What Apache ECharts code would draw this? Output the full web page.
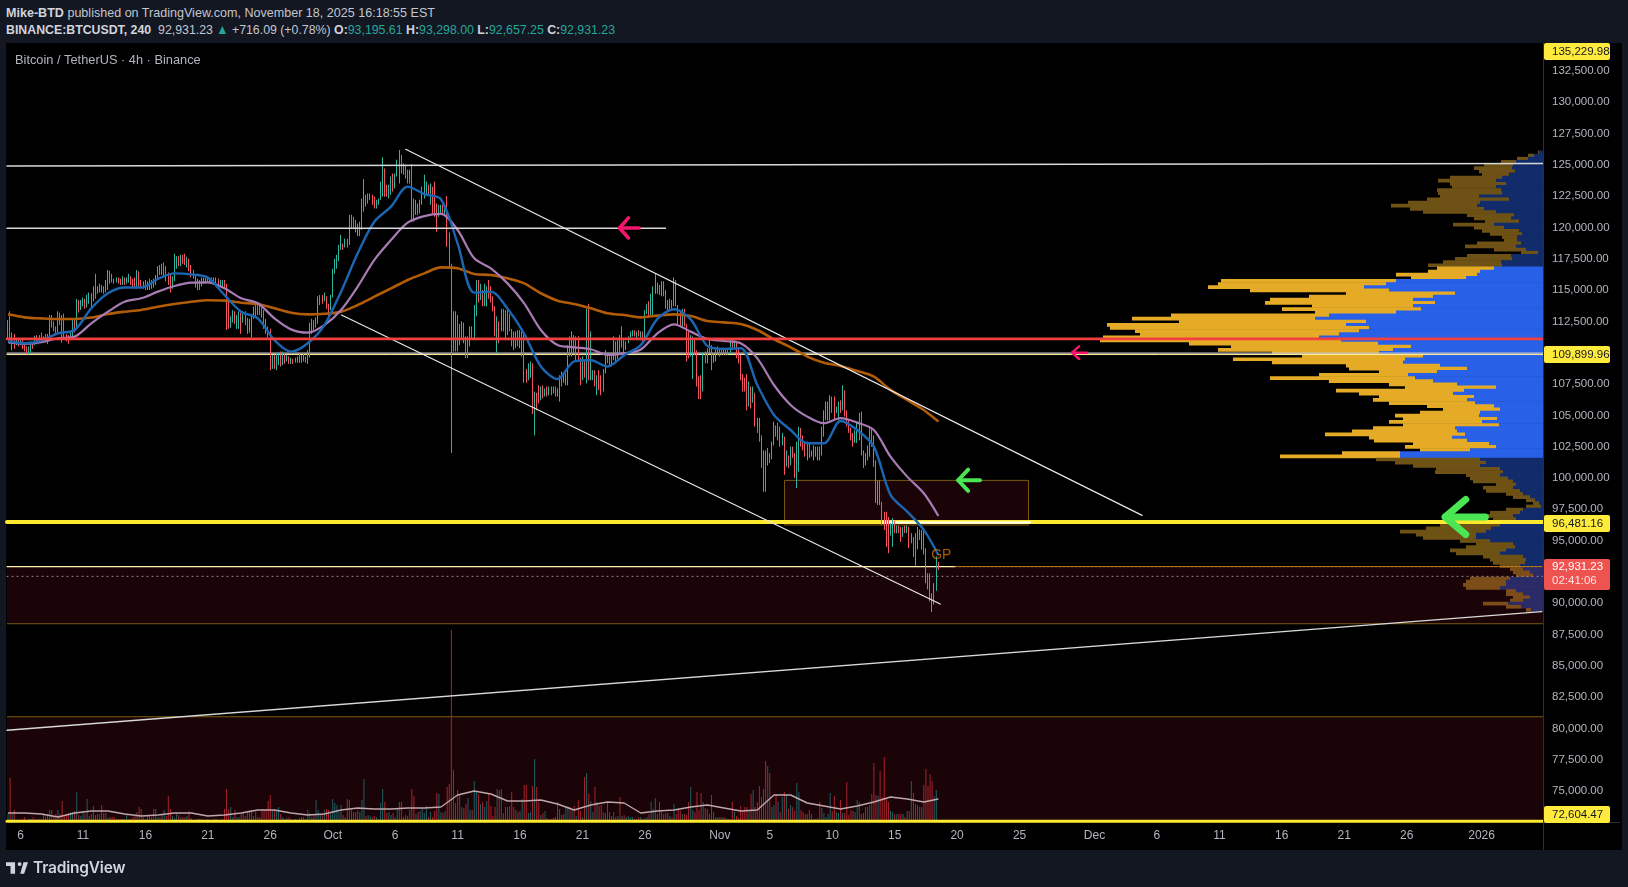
<!DOCTYPE html>
<html>
<head>
<meta charset="utf-8">
<title>BTCUSDT 240</title>
<script src="https://cdn.jsdelivr.net/npm/echarts@6/dist/echarts.min.js"></script>
<style>
  html, body { margin: 0; padding: 0; background: #131722; overflow: hidden; }
  #page { position: relative; width: 1628px; height: 887px; font-family: 'Liberation Sans', sans-serif; color: #c3c6ce; }
  #black { position: absolute; left: 6px; top: 43px; width: 1616px; height: 807px; background: #000; }
  #chart { position: absolute; left: 0; top: 0; width: 1628px; height: 887px; }
  .row { position: absolute; left: 6px; font-size: 13.5px; white-space: pre; transform-origin: left center; }
  .row b { font-weight: 700; color: #d1d4dc; }
  .row i { font-style: normal; color: #26a69a; }
  #logo { position: absolute; left: 6px; top: 862px; }
  #brand { position: absolute; left: 33px; top: 858px; font-family: Inter, sans-serif; font-weight: 600; font-size: 15.5px; color: #d1d4dc; letter-spacing: -0.2px; }
</style>
</head>
<body>
<div id="page">
  <div class="row" style="top:5px;transform:scaleX(.93)"><b>Mike-BTD</b> published on TradingView.com, November 18, 2025 16:18:55 EST</div>
  <div class="row" style="top:22px;transform:scaleX(.913)"><b>BINANCE:BTCUSDT, 240</b>  92,931.23 <i>▲</i> +716.09 (+0.78%) <b>O:</b><i>93,195.61</i> <b>H:</b><i>93,298.00</i> <b>L:</b><i>92,657.25</i> <b>C:</b><i>92,931.23</i></div>
  <div id="black"></div>
  <div id="chart"></div>
  <svg id="logo" width="22" height="12" viewBox="0 6 34 18"><path fill="#d1d4dc" d="M14 6H0v6h7v12h7V6zm14 18h-6l5-18h7l-6 18zm-7-12a3 3 0 100-6 3 3 0 000 6z"/></svg>
  <div id="brand">TradingView</div>
</div>
<script>
const chartTitle = 'Bitcoin / TetherUS · 4h · Binance'

// 4h candles, prices in thousands
const closes = [
  111.2,110.9,111.3,110.8,110.9,110.7,110.9,110.6,110.3,110.0,
  110.3,110.7,110.6,111.2,111.1,111.2,111.0,111.2,111.1,111.3,
  112.9,112.2,111.9,111.8,113.2,112.7,112.3,111.5,111.3,111.2,
  111.5,112.5,112.2,114.2,113.5,113.9,114.3,113.7,114.0,114.7,
  114.1,115.2,114.9,115.1,115.3,115.0,114.8,115.7,116.5,116.3,
  115.8,115.7,115.9,115.7,115.6,115.9,115.5,115.9,116.1,115.7,
  115.5,115.2,116.5,115.4,115.3,115.5,115.2,115.6,115.2,115.7,
  115.5,116.1,116.8,116.4,116.6,116.9,116.2,116.0,115.6,115.9,
  116.8,117.4,117.0,117.7,117.5,117.2,117.4,116.9,116.5,116.1,
  115.7,115.6,115.4,115.6,115.9,115.7,115.9,115.7,115.9,115.6,
  115.8,115.5,115.6,115.6,115.4,114.2,112.2,112.7,113.1,112.6,
  112.8,113.1,112.4,113.1,112.7,112.2,112.4,113.0,113.7,113.1,
  113.8,113.5,113.4,112.5,112.0,111.9,109.0,109.5,109.0,109.5,
  109.6,109.0,109.9,109.4,109.6,109.3,109.4,109.2,109.4,109.3,
  109.7,109.4,109.6,109.4,109.7,111.9,112.5,112.3,112.4,114.1,
  114.4,114.3,114.5,113.9,113.6,114.4,116.5,117.3,117.6,118.3,
  118.7,118.4,118.9,118.6,120.8,120.4,120.0,119.8,120.1,120.2,
  122.2,122.6,122.4,122.5,122.6,122.1,121.7,121.9,122.2,123.4,
  124.2,122.8,122.6,122.7,123.9,123.1,124.1,125.0,125.8,125.0,
  124.4,124.2,123.7,123.8,122.3,121.0,121.9,121.4,122.1,122.9,
  123.2,123.4,122.8,122.9,121.6,121.2,120.9,121.3,121.5,121.1,
  121.6,119.6,117.0,110.3,112.7,111.0,110.6,111.2,112.4,111.0,
  110.1,111.0,111.9,111.6,113.7,115.5,114.6,115.0,114.2,115.0,
  115.1,114.9,114.3,113.6,111.6,112.5,111.8,113.2,112.0,111.4,
  112.9,111.9,110.9,110.7,111.5,110.8,111.4,111.6,108.3,108.0,
  108.8,108.9,105.2,106.6,106.4,106.2,106.9,106.7,107.0,106.8,
  107.1,106.9,107.2,106.7,106.9,108.0,107.6,108.1,108.2,110.4,
  110.0,111.4,110.5,110.9,109.6,107.8,109.3,108.3,109.4,108.0,
  108.1,108.4,107.7,107.9,107.3,106.9,108.5,109.9,109.5,109.2,
  109.7,110.9,109.5,110.8,110.4,110.8,110.3,110.8,111.2,111.5,
  111.7,111.4,111.6,111.4,111.5,111.1,113.2,113.8,113.6,114.5,
  115.0,115.6,115.1,114.8,115.0,114.7,113.9,114.0,114.1,113.8,
  114.0,113.8,112.9,112.7,113.2,112.3,110.9,110.2,110.3,110.7,
  110.2,107.9,107.0,106.9,109.7,109.3,110.2,110.6,109.2,109.7,
  110.0,110.3,110.0,110.2,109.95,110.3,109.9,110.8,110.4,110.9,
  110.2,109.6,108.3,107.8,107.4,106.0,106.9,106.1,106.8,104.6,
  104.1,103.2,101.0,101.5,101.0,102.0,101.5,102.7,104.2,103.5,
  104.1,103.0,103.3,100.9,101.8,101.0,102.3,102.0,100.5,102.6,
  103.9,103.1,102.6,102.1,102.5,101.9,102.1,102.4,102.0,102.3,
  101.8,103.9,105.0,105.4,105.9,106.4,105.5,105.2,105.6,105.9,
  105.5,107.0,105.2,104.6,104.0,103.3,103.1,103.6,104.3,104.8,
  102.2,101.2,101.8,102.4,103.9,102.9,101.2,98.6,99.4,98.1,
  96.8,96.3,96.0,95.4,96.2,96.6,95.9,96.0,95.8,95.3,
  95.9,95.7,96.1,94.9,95.2,94.1,95.0,95.9,95.4,95.7,
  94.0,91.9,91.6,90.5,89.9,91.4,93.3,92.93
]
const highs = [
  112.6,113.3,111.6,111.5,111.1,111.0,111.1,111.0,110.7,110.5,
  110.5,110.9,110.8,111.35,111.4,111.4,111.6,111.3,111.5,111.5,
  113.0,113.0,112.5,112.1,113.3,113.2,113.0,113.1,111.5,111.4,
  111.7,112.6,112.6,114.3,114.2,114.2,114.4,114.3,114.6,114.8,
  114.75,115.3,116.3,115.3,115.5,115.4,115.3,115.8,116.6,116.55,
  116.3,115.9,116.0,116.0,115.9,116.1,116.0,116.0,116.3,116.1,
  115.9,116.0,116.6,116.0,115.8,115.7,115.8,115.7,115.9,115.8,
  115.9,116.2,116.9,117.0,117.1,117.2,116.6,116.4,116.3,116.1,
  117.9,117.7,117.7,117.8,117.8,117.9,117.65,117.5,117.0,116.6,
  116.2,115.9,115.8,116.0,116.0,116.0,116.1,116.0,116.0,116.0,
  116.0,115.9,115.8,115.8,115.8,115.5,114.0,112.9,113.4,113.3,
  113.0,113.3,113.2,113.3,113.3,112.8,112.7,113.1,113.7,113.9,
  114.0,114.0,113.6,113.4,112.7,112.1,111.7,109.8,109.8,109.9,
  110.0,110.1,110.1,109.8,109.8,109.7,109.6,109.5,109.6,109.7,
  109.9,109.8,109.9,109.7,110.2,112.4,112.7,112.6,112.8,114.5,
  114.6,114.6,114.8,114.5,113.9,114.6,116.7,117.5,117.8,118.6,
  119.4,118.7,119.1,119.1,121.0,121.0,120.85,120.6,120.3,120.45,
  122.3,123.85,122.6,122.7,122.7,122.45,122.45,122.2,122.3,123.65,
  125.6,124.7,123.4,123.4,124.05,124.3,124.3,125.4,126.17,125.1,
  125.1,125.0,124.6,124.6,125.05,122.2,122.2,121.9,122.2,123.25,
  124.2,123.65,123.25,123.5,123.25,123.65,121.9,121.8,121.8,121.8,
  121.8,122.5,119.6,117.1,113.3,113.3,113.0,112.3,112.5,112.1,
  111.3,111.3,112.1,112.1,113.8,115.8,115.8,115.5,115.0,115.5,
  115.3,115.8,115.3,114.5,113.7,112.9,112.1,113.5,113.5,113.4,
  113.4,113.1,111.8,111.7,111.7,111.8,111.8,111.7,111.7,108.7,
  109.15,109.3,109.15,106.9,106.8,107.4,107.3,107.4,107.15,107.3,
  107.3,107.3,107.3,107.3,107.15,108.2,108.5,108.35,108.35,110.6,
  111.3,111.7,111.3,111.3,111.3,109.4,109.7,109.4,113.5,113.9,
  111.7,108.6,108.6,108.2,108.6,108.2,108.7,110.2,109.95,109.7,
  109.95,111.3,110,111,111.4,112.1,111,110.9,111.3,111.7,
  111.8,111.8,111.7,111.8,111.7,111.7,113.4,113.9,114.1,114.7,
  115.3,116.3,115.5,115.4,115.7,115.7,115,114.2,114.3,114.2,
  116,115.8,113.7,113.4,113.5,113.5,112.3,111.7,111.4,111.3,
  111.15,110,108.1,108.2,110,110.1,110.35,111,110.6,109.95,
  110.35,110.5,110.35,110.35,110.4,110.35,110.2,111,111,111,
  110.75,110.35,109.8,108,108,108.3,107.7,107.3,107.3,106.1,
  104.8,104.8,103.4,102.2,102.2,102.4,102,102.9,104.5,104.1,
  104.4,104.1,103.6,103,102.2,101.6,102.5,102.5,102,102.9,
  104.1,104,103.4,102.8,102.9,102.8,102.2,102.6,102.5,102.5,
  102.5,104.1,105.4,106.1,106.1,106.6,106.5,106.5,105.7,106.1,
  106.2,107.4,107,105.4,104.4,103.8,103.6,103.8,104.5,105.2,
  105.3,102.1,102,102.6,104.1,103.8,103.4,101.4,99.8,99.8,
  97.5,97.3,97.3,96.9,96.4,96.8,96.4,96.2,96.2,96.1,
  96.1,96.2,96.2,96.1,95.6,95.3,95.6,96.1,95.6,95.85,
  95.85,94.4,92.4,92.4,90.8,91.6,93.75,93.3
]
const lows = [
  111.0,110.7,110.2,110.3,110.6,110.5,110.6,110.3,110.1,109.9,
  109.85,110.0,110.3,110.6,110.8,110.9,110.9,110.8,110.9,110.7,
  111.3,112.0,111.7,111.4,111.6,112.2,110.8,111.2,110.9,110.7,
  111.0,111.3,111.6,112.0,113.2,113.4,113.7,113.5,113.6,113.9,
  113.5,114.3,114.3,114.7,114.8,114.8,114.7,114.9,115.0,115.5,
  115.6,115.5,115.6,115.5,115.4,115.4,115.4,115.5,115.6,115.4,
  115.2,115.1,115.1,115.2,115.2,115.1,115.0,115.0,115.0,115.1,
  115.2,115.4,115.9,116.2,116.2,116.0,115.7,115.4,114.8,115.1,
  115.7,116.7,116.9,116.9,117.1,117.0,116.8,116.5,116.0,115.9,
  115.2,115.0,115.0,115.3,115.5,115.5,115.6,115.5,115.6,115.4,
  115.5,115.4,115.3,115.2,115.1,111.8,111.9,112.0,112.4,112.3,
  111.9,111.9,111.5,112.4,112.2,111.5,111.6,111.2,112.7,112.9,
  113.0,113.0,112.8,111.9,111.5,111.2,108.6,108.7,108.7,108.6,
  109.0,108.9,109.0,109.1,109.3,109.1,109.1,109.1,109.2,109.2,
  109.2,109.2,109.3,109.2,109.1,109.6,111.5,111.8,112.0,112.3,
  113.8,113.9,114.1,113.5,112.7,113.4,114.6,116.3,116.7,117.3,
  118.2,118.2,118.45,118.4,118.6,119.9,119.9,119.6,119.3,119.3,
  119.8,121.25,121.65,121.9,122.2,121.8,121.5,121.5,121.8,122.2,
  122.45,122.45,122.45,122.3,122.6,122.85,123.25,124.05,123.5,124.3,
  124.2,123.9,123.5,123.5,120.6,120.45,121.1,121.0,121.1,121.8,
  122.3,122.6,122.6,121.8,121.1,120.85,119.65,120.85,121,121,
  121,118.45,116.8,102.0,110.1,110.1,110.1,111,111,110.75,
  109.55,109.55,110.5,111.15,111.15,112.9,114,114.2,113.7,113.7,
  113.7,114.3,114,113.3,111.3,110,110.75,111.7,111.7,111,
  111.5,111.7,110.5,110.2,110.35,110.5,110.35,109.7,107.6,107.6,
  107.8,108,105.1,103.4,105.4,105.95,106.2,106.35,106.5,106.5,
  106.6,106.6,106.75,106.5,106.5,106.1,107.3,107.8,107.4,107.4,
  109.7,109.7,110,109.4,109.3,107.4,108.9,108,107.55,107.8,
  107.8,107.8,107.3,106.6,107,106.6,107.3,108.35,109.15,108.9,
  108.9,109.4,109.15,110,110,110.5,110,110.2,110.75,111,
  111.3,111.3,111,111.3,111,110.9,111.3,113.1,112.9,113,
  112.9,114.7,114.7,114.6,114.5,114.5,113.5,113.4,113.5,113.5,
  113.7,113.7,112.2,112.1,112.1,112.1,109.3,109.55,109.7,107.9,
  109.8,107.3,106.3,106.3,106.9,109.15,109.15,109.95,108.6,109.3,
  109.3,109.8,109.7,109.8,109.8,109.8,109.8,110.2,110.2,110.35,
  109.55,109.15,107.8,106.9,106.9,105.4,105.7,105.55,106,104.1,
  103.6,102.9,100.8,98.9,98.9,101.4,101.2,101.85,102.6,103.3,
  103,102.5,102.6,100.25,100.9,100.8,101.4,101.6,100,99.2,
  100.5,102.5,102.2,101.7,101.4,101.6,101.7,101.4,101.7,101.4,
  101.4,102.2,103.3,104.6,104.6,104.6,105.2,104.6,105.2,104.6,
  105.2,105.4,104.9,104.1,103.6,103,102.5,102.8,102.8,103,
  101.8,100.8,101,101.4,101.7,102.5,100.9,98,97.85,97.85,
  96.25,95.85,94.5,94,95.85,94.5,95.6,95.6,95.6,94.9,
  95.3,95.6,95.6,94.4,94.8,93.7,93,94.3,95.05,94.3,
  93.9,91.6,91.1,90.15,89.3,89.9,91,92.66
]
const firstOpen = 111.0

// volume pane, arbitrary units
const volumes = [
  8,44,9,12,2,2,2,3,5,2, 3,3,5,3,3,3,3,8,5,8,
  12,12,6,8,12,8,21,7,7,9, 10,10,11,30,7,6,11,8,23,6,
  8,16,7,8,8,17,9,9,4,5, 5,5,3,3,3,3,3,8,3,3,
  5,6,10,15,13,5,3,6,6,5, 13,13,5,5,7,12,6,26,13,6,
  4,9,7,5,5,5,6,11,4,2, 2,3,3,3,2,2,3,2,2,3,
  3,2,2,3,13,33,13,15,5,12, 5,5,8,9,6,11,12,12,6,10,
  5,5,13,13,13,21,27,12,13,12, 15,8,5,3,4,5,3,2,3,2,
  4,5,5,3,12,9,5,8,22,12, 7,9,12,13,12,8,23,19,17,10,
  17,7,5,23,22,12,10,10,12,10, 22,43,6,7,6,5,6,5,3,19,
  33,20,9,10,7,9,5,13,20,20, 5,7,6,12,33,26,8,10,11,13,
  9,16,5,10,5,11,29,28,10,9, 11,35,38,192,52,19,32,27,15,14,
  18,24,12,12,41,30,28,18,20,15, 21,28,16,6,15,33,32,33,9,15,
  15,16,30,15,12,10,11,23,37,37, 9,10,36,63,35,20,7,9,11,4,
  3,3,4,5,20,13,7,8,15,16, 15,12,16,6,22,11,5,45,49,28,
  21,10,35,20,16,17,10,9,19,10, 6,10,5,6,25,6,7,5,6,5,
  5,3,3,5,5,3,4,5,8,20, 13,24,8,20,10,8,9,9,6,5,
  18,8,13,11,8,8,7,20,35,12, 10,30,12,29,20,14,13,8,27,10,
  5,5,5,5,5,4,3,3,20,10, 6,4,16,11,15,15,12,28,32,15,
  20,36,25,33,61,56,49,15,17,28, 20,10,25,30,28,13,17,15,11,39,
  30,12,10,8,8,12,8,3,3,4, 20,14,9,5,8,29,11,26,10,9,
  22,9,9,40,7,12,11,10,22,20, 8,9,15,15,17,28,59,27,26,51,
  25,65,23,20,11,10,8,8,8,8, 8,5,11,11,41,29,18,17,15,15,
  37,53,36,48,41,26,32,2
]

// moving averages, read every 8th bar
const maFast = [
  110.93,110.75,110.96,111.55,111.81,113.54,114.74,115.2,115.2,115.88,
  116.33,116.25,115.99,114.6,113.27,112.74,111.0,110.08,110.75,112.2,
  114.87,117.93,120.45,121.65,123.25,122.66,122.24,118.72,114.79,114.87,
  113.5,111.5,108.9,107.9,109.3,109.4,108.9,109.8,110.6,112.7,
  113.46,112.66,110.54,110.3,110.35,107.42,105.03,103.83,102.77,102.77,
  104.55,103.83,102.5,98.65,97.32,95.86,93.86
]
const maMid = [
  110.83,110.7,110.83,111.15,111.28,112.34,113.27,114.07,114.34,114.87,
  115.32,115.59,115.61,115.14,114.34,113.94,112.74,111.86,111.6,112.2,
  113.4,115.27,117.4,118.99,120.37,120.9,121.07,119.79,117.53,116.73,
  115.53,113.94,111.81,110.61,110.43,110.27,109.82,109.95,110.25,111.55,
  112.26,111.68,111.09,110.93,110.75,109.55,107.42,105.83,104.9,104.37,
  104.77,104.42,103.83,101.7,100.11,98.78,96.97
]
const maSlow = [
  113.06,112.82,112.74,112.69,112.69,112.8,113.09,113.27,113.41,113.67,
  113.89,114.07,114.18,114.15,113.99,113.89,113.54,113.19,113.06,113.1,
  113.27,113.8,114.47,115.13,115.8,116.33,116.81,116.73,116.28,116.2,
  115.93,115.53,114.74,114.15,113.89,113.54,113.14,113.0,112.82,112.96,
  113.06,112.93,112.53,112.42,112.29,111.81,111.07,110.43,109.69,109.2,
  108.94,108.54,108.09,107.03,106.23,105.43,104.5
]
const maVolume = [
  9,9,8,5,9,11,11,8,6,7, 9,9,6,7,9,12,12,9,7,8,
  12,14,13,13,14,14,15,27,31,28, 21,21,22,18,12,17,20,19,9,11,
  12,15,17,14,11,12,27,27,19,16, 13,16,20,25,23,20,23
]

// volume profile, one row per 250 USDT from 126,000 down
const profileTopPrice = 126.0
const profileStep = 0.25
const profileTotal = [
  5,15,26,42,59,69,64,61,93,105,93,91,106,105,103,116,135,152,133,120,
  76,69,58,90,69,61,53,41,39,66,78,49,22,76,88,100,115,106,115,147,
  132,322,325,335,293,197,234,273,278,231,261,228,372,411,364,436,433,408,403,440,
  443,354,312,325,271,241,310,271,197,194,164,224,273,214,154,138,207,184,164,170,
  154,116,100,123,148,140,154,140,170,191,218,174,169,130,138,123,201,263,
  167,148,130,107,108,77,73,70,47,60,57,37,30,17,10,17,37,53,55,50,
  93,103,117,143,127,120,83,67,77,93,87,60,53,50,43,33,30,27,73,77,
  80,77,37,37,30,33,60,37,17
]
const profileBuy = [
  4,9,15,27,30,31,28,34,41,47,37,47,42,41,64,34,63,66,59,47,
  29,32,24,49,39,24,21,26,26,22,27,17,5,32,31,42,41,49,63,66,
  77,147,157,179,154,88,110,130,108,130,122,147,214,228,177,197,174,184,204,224,
  202,165,132,150,164,120,138,140,103,76,106,135,128,110,86,47,79,90,69,76,
  68,49,43,63,64,46,61,44,88,86,78,91,76,54,47,73,143,143,
  63,57,63,43,40,43,35,30,27,30,23,20,13,8,4,2,20,23,30,27,
  40,43,52,57,67,67,53,30,28,37,43,20,17,18,23,20,13,10,33,37,
  37,43,27,20,13,20,35,22,12
]
// rows inside this range are the value area, drawn bright
const valueAreaHigh = 116.9
const valueAreaLow = 101.65

// drawings as [bar, price]
const channelUpper = [[191.05, 126.23], [544.9, 97.02]]
const channelLower = [[160.2, 113.0], [447.9, 89.95]]
const longTrend = [[-0.5, 79.87], [736.9, 89.33]]
const level125 = [[-0.5, 124.9], [737.5, 125.1]]
const level120 = [[-0.5, 119.93], [315.9, 119.93]]
const levelRed = [[-0.5, 111.1], [737.5, 111.1]]
const levelWhite = [[-0.5, 109.97], [737.5, 109.97]]
const levelPale = [[-0.5, 109.85], [737.5, 109.85]]
const levelYellow = [[-0.5, 96.48], [737.5, 96.48]]
const levelOverlay = [[420.5, 96.45], [491, 96.45]]
const levelZoneTop = [[-0.5, 92.93], [455, 92.93]]
const lastPriceLine = [[455, 92.93], [737.5, 92.93]]
const dottedLevel = [[-0.5, 92.15], [737.5, 92.15]]
const levelBottom = [[-0.5, 72.6], [737.5, 72.6]]
// [fromBar, toBar, top, bottom]
const zones = [
  [373.1, 490.3, 99.81, 96.25],
  [-4, 741, 92.93, 88.37],
  [-4, 741, 80.95, 72.6]
]
// [tip bar, head bar, tail bar, price, head half height]
const greenArrows = [[456.5, 461.3, 467, 99.82, 0.85], [690.5, 700.4, 709.8, 96.89, 1.4]]
const pinkArrows = [[293.8, 298.1, 303.2, 119.95, 0.8], [511.2, 514.6, 518.4, 110, 0.5]]
const gpLabel = [448.4, 93.86]

// axis labels
const priceTicks = [
  75000,77500,80000,82500,85000,87500,90000,95000,97500,100000,102500,105000,107500,
  112500,115000,117500,120000,122500,125000,127500,130000,132500
]
const timeTickDates = [
  '2025-09-06','2025-09-11','2025-09-16','2025-09-21','2025-09-26','2025-10-01','2025-10-06','2025-10-11',
  '2025-10-16','2025-10-21','2025-10-26','2025-11-01','2025-11-05','2025-11-10','2025-11-15','2025-11-20',
  '2025-11-25','2025-12-01','2025-12-06','2025-12-11','2025-12-16','2025-12-21','2025-12-26','2026-01-01'
]
const timeTickLabels = ['6','11','16','21','26','Oct','6','11','16','21','26','Nov','5','10','15','20','25','Dec','6','11','16','21','26','2026']
const priceBadges = [['135,229.98', 43], ['109,899.96', 346], ['96,481.16', 515], ['72,604.47', 806]]
const lastBadge = ['92,931.23', '02:41:06']

const FONT = "'Liberation Sans', sans-serif"
const BAR_COUNT = 738
const FIRST_BAR = Date.UTC(2025, 8, 5)
const BAR_MS = 4 * 3600 * 1000

const categories = []
for (let i = 0; i < BAR_COUNT; i++) categories.push(new Date(FIRST_BAR + i * BAR_MS).toISOString())
const labelByBar = {}
timeTickDates.forEach((d, i) => {
  labelByBar[(Date.parse(d + 'T00:00:00Z') - FIRST_BAR) / BAR_MS] = timeTickLabels[i]
})

const opens = closes.map((c, i) => (i === 0 ? firstOpen : closes[i - 1]))
const candleData = closes.map((c, i) => {
  const o = opens[i]
  return [o * 1000, c * 1000, Math.min(lows[i], o, c) * 1000, Math.max(highs[i], o, c) * 1000]
})
const volumeData = volumes.map((v, i) => ({
  value: v,
  itemStyle: { color: closes[i] >= opens[i] ? '#1f6064' : '#a8242e' }
}))
const maBars = maFast.map((v, i) => Math.min(i * 8, 447))
const profileData = profileTotal.map((t, i) => [(profileTopPrice - i * profileStep) * 1000, profileBuy[i], t])

function toPrice(points) {
  return points.map((p) => [p[0], p[1] * 1000])
}

function drawing(points, lineStyle, z) {
  return {
    type: 'line',
    xAxisIndex: 1,
    yAxisIndex: 0,
    data: toPrice(points),
    symbol: 'none',
    silent: true,
    z: z || 6,
    lineStyle: Object.assign({ cap: 'round', join: 'round' }, lineStyle)
  }
}

function movingAverage(values, color, width) {
  return {
    type: 'line',
    xAxisIndex: 1,
    yAxisIndex: 0,
    data: values.map((v, i) => [maBars[i], v * 1000]),
    symbol: 'none',
    smooth: 0.3,
    silent: true,
    z: 6,
    lineStyle: { color: color, width: width }
  }
}

function arrow(a, color, width) {
  const tip = a[0], head = a[1], tail = a[2], price = a[3], half = a[4]
  const style = { color: color, width: width }
  return [
    drawing([[tip, price], [tail, price]], style, 8),
    drawing([[head, price + half], [tip, price], [head, price - half]], style, 8)
  ]
}

function renderProfile(params, api) {
  const price = api.value(0)
  const edge = api.coord([0, price + 125])
  const edgeLow = api.coord([0, price - 125])
  const buyEdge = api.coord([api.value(1), price])
  const totalEdge = api.coord([api.value(2), price])
  const bright = price / 1000 <= valueAreaHigh && price / 1000 >= valueAreaLow
  // rows overlap a little so no black seams show between them
  const h = edgeLow[1] - edge[1] + 0.6
  return {
    type: 'group',
    children: [
      { type: 'rect', shape: { x: buyEdge[0], y: edge[1], width: edge[0] - buyEdge[0], height: h }, style: { fill: bright ? '#2860e8' : '#122c6b' } },
      { type: 'rect', shape: { x: totalEdge[0], y: edge[1], width: buyEdge[0] - totalEdge[0], height: h }, style: { fill: bright ? '#e5ab27' : '#6e5215' } }
    ]
  }
}

function renderZone(params, api) {
  const a = api.coord([api.value(0), api.value(2)])
  const b = api.coord([api.value(1), api.value(3)])
  return {
    type: 'rect',
    shape: { x: a[0], y: a[1], width: b[0] - a[0], height: b[1] - a[1] },
    style: { fill: 'rgba(255,40,70,0.1)', stroke: '#7a5a10', lineWidth: 1 }
  }
}

function badge(text, top) {
  return [
    { type: 'rect', z: 20, shape: { x: 1544, y: top, width: 66, height: 17, r: 2 }, style: { fill: '#ffeb3b' } },
    { type: 'text', z: 21, style: { x: 1552, y: top + 3, text: text, fill: '#131722', font: '11.5px ' + FONT } }
  ]
}

const chart = echarts.init(document.getElementById('chart'))

const option = {
  animation: false,
  backgroundColor: 'transparent',
  textStyle: { fontFamily: FONT },
  title: {
    text: chartTitle,
    left: 10,
    top: 49,
    textStyle: { color: '#b2b5be', fontSize: 12.8, fontWeight: 'normal', fontFamily: FONT }
  },
  grid: { left: 7, top: 43, width: 1536, height: 779 },
  xAxis: [
    {
      type: 'category',
      data: categories,
      boundaryGap: true,
      axisLine: { show: false },
      axisTick: { show: false },
      splitLine: { show: false },
      axisLabel: {
        color: '#b2b5be',
        fontSize: 12,
        fontFamily: FONT,
        margin: 8,
        interval: (i) => labelByBar[i] !== undefined,
        formatter: (v, i) => labelByBar[i] || ''
      }
    },
    { type: 'value', show: false, min: -0.5, max: BAR_COUNT - 0.5, splitLine: { show: false } },
    { type: 'value', show: false, inverse: true, min: 0, max: 1536, splitLine: { show: false } }
  ],
  yAxis: [
    {
      type: 'value',
      position: 'right',
      min: 72550,
      max: 134711,
      axisLine: { show: false },
      axisTick: { show: false },
      splitLine: { show: false },
      axisLabel: {
        customValues: priceTicks,
        color: '#b2b5be',
        fontSize: 11.5,
        fontFamily: FONT,
        margin: 9,
        formatter: (v) => v.toLocaleString('en-US', { minimumFractionDigits: 2 })
      }
    },
    { type: 'value', show: false, min: 0, max: 779, splitLine: { show: false } }
  ],
  graphic: [
    { type: 'line', z: 19, shape: { x1: 1543.5, y1: 43, x2: 1543.5, y2: 850 }, style: { stroke: '#2a2e39', lineWidth: 1 } },
    { type: 'line', z: 19, shape: { x1: 1543, y1: 822.5, x2: 1620, y2: 822.5 }, style: { stroke: '#2a2e39', lineWidth: 1 } },
    ...priceBadges.flatMap((b) => badge(b[0], b[1])),
    { type: 'rect', z: 20, shape: { x: 1544, y: 559, width: 66, height: 31, r: 2 }, style: { fill: '#ef5350' } },
    { type: 'text', z: 21, style: { x: 1552, y: 561, text: lastBadge[0], fill: '#fff', font: '11.5px ' + FONT } },
    { type: 'text', z: 21, style: { x: 1552, y: 575, text: lastBadge[1], fill: '#ffe3e3', font: '11.5px ' + FONT } }
  ],
  series: [
    {
      type: 'custom',
      coordinateSystem: 'cartesian2d',
      xAxisIndex: 2,
      yAxisIndex: 0,
      data: profileData,
      renderItem: renderProfile,
      encode: { x: 1, y: 0 },
      silent: true,
      z: 1
    },
    {
      type: 'custom',
      coordinateSystem: 'cartesian2d',
      xAxisIndex: 1,
      yAxisIndex: 0,
      data: zones.map((z) => [z[0], z[1], z[2] * 1000, z[3] * 1000]),
      renderItem: renderZone,
      encode: { x: [0, 1], y: [2, 3] },
      clip: true,
      silent: true,
      z: 2
    },
    {
      type: 'bar',
      xAxisIndex: 0,
      yAxisIndex: 1,
      data: volumeData,
      barWidth: 1,
      silent: true,
      z: 3
    },
    drawing(levelWhite, { color: '#c8c8c8', width: 1.2 }, 3),
    drawing(levelPale, { color: '#ffee9a', width: 1 }, 3),
    drawing(levelRed, { color: '#f23f3f', width: 2.6 }, 7),
    drawing(levelYellow, { color: '#ffe92e', width: 4 }, 3),
    drawing(levelOverlay, { color: '#ffffff', width: 2.2 }, 3),
    drawing(levelZoneTop, { color: '#ffefb0', width: 1.2 }, 3),
    drawing(lastPriceLine, { color: '#d8842a', width: 1, type: [2, 2] }, 3),
    drawing(dottedLevel, { color: '#a08a90', width: 1, type: [1, 4] }, 3),
    drawing(levelBottom, { color: '#ffe92e', width: 3 }, 7),
    {
      type: 'candlestick',
      xAxisIndex: 0,
      yAxisIndex: 0,
      data: candleData,
      barWidth: 1,
      silent: true,
      large: false,
      progressive: 0,
      z: 4,
      itemStyle: {
        color: '#2bb5a0',
        color0: '#f7525f',
        borderColor: '#2bb5a0',
        borderColor0: '#f7525f',
        borderWidth: 1
      }
    },
    movingAverage(maSlow, '#b35c07', 2.6),
    movingAverage(maMid, '#a97bb5', 2.2),
    movingAverage(maFast, '#1a66b3', 2.4),
    {
      type: 'line',
      xAxisIndex: 0,
      yAxisIndex: 1,
      data: maVolume.map((v, i) => [maBars[i], v]),
      symbol: 'none',
      silent: true,
      z: 5,
      lineStyle: { color: '#bfa6ac', width: 1.4 }
    },
    drawing(level125, { color: '#d8d8d8', width: 1.4 }),
    drawing(level120, { color: '#d8d8d8', width: 1.4 }),
    drawing(channelUpper, { color: '#e8e8e8', width: 1.2 }),
    drawing(channelLower, { color: '#e8e8e8', width: 1.2 }),
    drawing(longTrend, { color: '#d8d8d8', width: 1.3 }),
    ...greenArrows.flatMap((a, i) => arrow(a, '#4be653', i === 0 ? 4 : 7)),
    ...pinkArrows.flatMap((a, i) => arrow(a, '#f7146c', i === 0 ? 3.5 : 2.5)),
    {
      type: 'scatter',
      xAxisIndex: 1,
      yAxisIndex: 0,
      data: [[gpLabel[0], gpLabel[1] * 1000]],
      symbolSize: 1,
      silent: true,
      z: 9,
      itemStyle: { color: 'transparent' },
      label: { show: true, position: 'inside', formatter: 'GP', color: '#d96f00', fontSize: 14, fontFamily: FONT }
    }
  ]
}

chart.setOption(option)
</script>
</body>
</html>
